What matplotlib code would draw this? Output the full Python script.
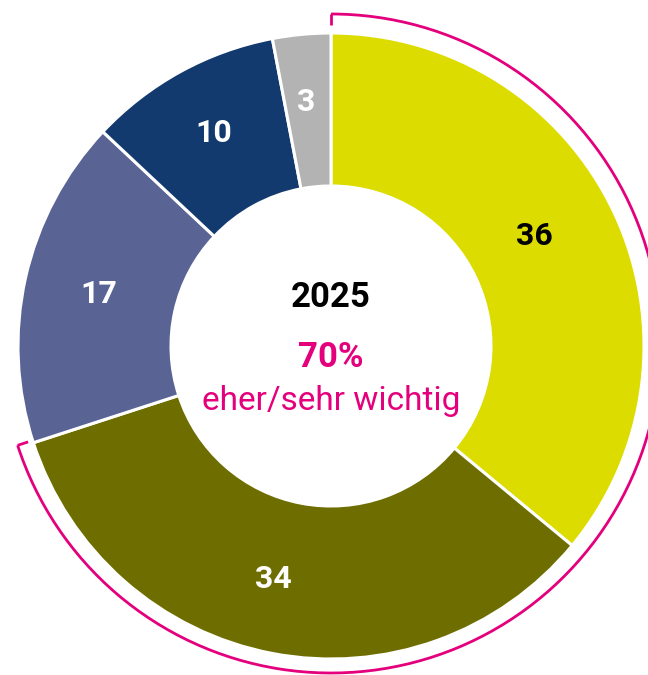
import matplotlib
matplotlib.use("Agg")
import matplotlib.pyplot as plt
import numpy as np
from matplotlib.patches import Arc

values = [36, 34, 17, 10, 3]
labels = ["36", "34", "17", "10", "3"]
colors = ["#DCDC00", "#6E6E00", "#596495", "#123A6E", "#B3B3B3"]
label_colors = ["black", "white", "white", "white", "white"]
year = "2025"
share_text = "70%"
share_label = "eher/sehr wichtig"
highlight_share = 70

W, H = 648, 675
cx, cy = 331, 346
R = 313
inner = 160

fig = plt.figure(figsize=(W / 100, H / 100), dpi=100)
ax = fig.add_axes([0, 0, 1, 1])

wedges, _ = ax.pie(values, colors=colors, startangle=90, counterclock=False,
                   radius=R, center=(0, 0),
                   wedgeprops=dict(width=R - inner, edgecolor="white", linewidth=2.2))
ax.set_xlim(-cx, W - cx)
ax.set_ylim(-(H - cy), cy)
ax.set_aspect("equal")
ax.axis("off")

# label placement tweaks (angle offset in degrees, radius in px)
angle_adj = [3.1, -3.2, 0, 0, 0.5]
radius_adj = [231, 240, 238, 243, 245]

total = sum(values)
cum = 0
for i, (v, lab, lc) in enumerate(zip(values, labels, label_colors)):
    mid = 90 - (cum + v / 2) / total * 360 + angle_adj[i]
    cum += v
    r = radius_adj[i]
    ax.text(r * np.cos(np.radians(mid)), r * np.sin(np.radians(mid)), lab,
            ha="center", va="center", fontsize=23, fontweight="bold", color=lc,
            family="Roboto")

# highlight arc
magenta = "#E4007D"
ar = 329.5
acy = 2.5
end_angle = 90 - highlight_share / 100 * 360
arc = Arc((0, acy), 2 * ar, 2 * ar, theta1=end_angle, theta2=90, color=magenta, lw=2)
ax.add_patch(arc)
tick = 11
for ang in (90, end_angle):
    a = np.radians(ang)
    ax.plot([ar * np.cos(a), (ar - tick) * np.cos(a)],
            [acy + ar * np.sin(a), acy + (ar - tick) * np.sin(a)], color=magenta, lw=2,
            solid_capstyle="butt")

ax.text(0, cy - 307, year, ha="center", va="baseline", fontsize=25, fontweight="bold",
        color="black", family="Roboto")
ax.text(0, cy - 367, share_text, ha="center", va="baseline", fontsize=25,
        fontweight="bold", color=magenta, family="Roboto")
ax.text(0, cy - 410, share_label, ha="center", va="baseline", fontsize=24,
        color=magenta, family="Roboto")

fig.savefig("out.png", dpi=100)
